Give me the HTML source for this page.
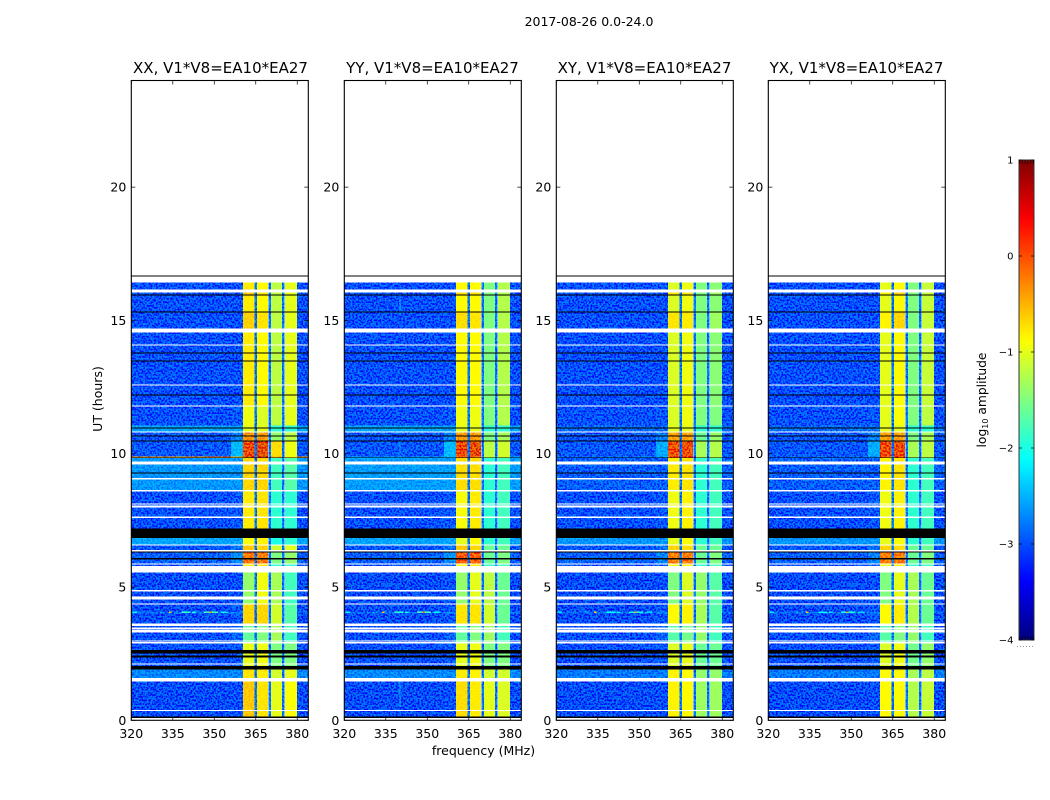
<!DOCTYPE html>
<html>
<head>
<meta charset="utf-8">
<title>2017-08-26 0.0-24.0</title>
<style>
html,body{margin:0;padding:0;background:#fff;width:1050px;height:800px;overflow:hidden}
svg{display:block}
text{font-family:"DejaVu Sans",sans-serif;fill:#000}
</style>
</head>
<body>
<svg id="fig" xmlns="http://www.w3.org/2000/svg" width="1050" height="800" viewBox="0 0 1050 800">
  <defs>
    <filter id="speckle" x="0" y="0" width="100%" height="100%" color-interpolation-filters="sRGB">
      <feTurbulence type="fractalNoise" baseFrequency="0.55" numOctaves="1" seed="7"/>
      <feColorMatrix type="matrix" values="0 0 0 0 0  4.6 0 0 0 -1.7  0 0 0 0 0  0 0 0 0 1"/>
    </filter>
    <linearGradient id="cbar-gradient" x1="0" y1="1" x2="0" y2="0"></linearGradient>
  </defs>
  <rect width="1050" height="800" fill="#fff"/>
  <text x="589" y="26" font-size="12.5" text-anchor="middle">2017-08-26 0.0-24.0</text>
  <g id="panels"></g>
  <text x="220.5" y="73" font-size="15" text-anchor="middle">XX, V1*V8=EA10*EA27</text>
  <text x="432.5" y="73" font-size="15" text-anchor="middle">YY, V1*V8=EA10*EA27</text>
  <text x="644.5" y="73" font-size="15" text-anchor="middle">XY, V1*V8=EA10*EA27</text>
  <text x="856.5" y="73" font-size="15" text-anchor="middle">YX, V1*V8=EA10*EA27</text>
  <text transform="translate(102,399) rotate(-90)" font-size="12.5" text-anchor="middle">UT (hours)</text>
  <text x="483.5" y="755" font-size="12.5" text-anchor="middle">frequency (MHz)</text>
  <g id="colorbar"></g>
  <text transform="translate(986,400) rotate(-90)" font-size="12.3" text-anchor="middle">log<tspan font-size="8" dy="2">10</tspan><tspan dy="-2"> amplitude</tspan></text>
</svg>
<script>
// ---- chart data (hours, MHz, log10 amplitude) ----
const panelNames = ['xx', 'yy', 'xy', 'yx'];
const xTickValues = [320, 335, 350, 365, 380];
const yTickValues = [0, 5, 10, 15, 20];
const colorbarTicks = [1, 0, -1, -2, -3, -4];
const freqStart = [320, 356, 360.4, 365.5, 370.5, 375.5, 380];
const freqEnd = [356, 360.4, 364.5, 369.5, 374.5, 380, 384];
const notchFreqs = [365, 370, 375];
const notchLevel = -3.1;

// UT edges of the time rows, top to bottom
const rowEdges = [16.69,16.65,16.43,16.16,16.05,15.98,15.94,15.34,15.30,14.70,14.55,14.10,14.06,13.80,13.76,13.50,13.46,12.60,12.56,12.23,12.19,11.81,11.78,11.06,10.99,10.95,10.84,10.80,10.69,10.65,10.50,10.46,9.90,9.86,9.83,9.71,9.60,9.30,9.26,9.08,9.04,8.63,8.59,8.14,8.10,8.06,7.99,7.65,7.58,7.20,6.83,6.60,6.56,6.38,6.34,6.30,6.08,6.04,5.89,5.85,5.78,5.55,4.88,4.84,4.65,4.54,4.39,4.35,4.09,4.01,3.64,3.53,3.49,3.41,3.38,3.30,3.00,2.96,2.93,2.89,2.63,2.51,2.44,2.36,2.14,2.10,2.03,1.91,1.58,1.46,0.38,0.34,0.15,0.08,0];
// row state: w = blank (flagged), k = black (zero), otherwise a level profile
const rowCodes = ['k','w','q','w','o','k','q','k','o','w','q','w','q','k','q','k','q','w','q','k','q','w','p','g','k','g','w','d','k','d','k','r','s','k','l','w','l','k','l','w','l','w','b','w','b','w','b','w','b','k','m','w','c','w','k','h','k','h','w','b','w','y','w','y','w','y','w','t','z','t','w','n','w','n','w','n','w','n','w','v','k','v','k','v','w','v','k','j','w','f','w','f','k','w'];

// profiles: [background, shoulder, band A, band B, band C, band D]
const xxProfiles = {
  q:[-3.35,-3.35,-.75,-.85,-1.2,-1.0], o:[-3.35,-3.35,-.55,-.7,-1.2,-1.0], p:[-3.35,-3.3,-.95,-1.05,-1.2,-1.0],
  g:[-2.75,-2.75,-1.0,-1.0,-1.9,-1.9], d:[-3.3,-3.0,-.15,-.2,-1.4,-1.2], r:[-3.3,-2.6,.45,.5,-.65,-.95],
  s:[-.1,-.5,.6,.6,-.3,-.8], l:[-2.85,-2.85,-.6,-.6,-1.8,-1.7], b:[-3.35,-3.3,-.75,-.7,-1.9,-1.9],
  m:[-2.75,-2.75,-.9,-.8,-2,-1.9], c:[-3.3,-3.1,-.5,-.6,-1.1,-1.0], h:[-3.25,-2.9,.05,.05,-1.5,-1.4],
  y:[-3.4,-3.35,-1.4,-.95,-1.3,-1.8], t:[-3.4,-3.3,-.6,-.6,-1.1,-1.7], z:[-3.15,-3.0,-.6,-.6,-1.1,-1.7],
  n:[-3.35,-3.2,-1.65,-1.5,-1.3,-1.8], v:[-3.35,-3.3,-1.0,-.95,-1.5,-1.5], j:[-2.95,-2.95,-.7,-.75,-1.1,-1.0], f:[-3.4,-3.35,-.5,-.7,-1.0,-.9]
};
const yyProfiles = {
  q:[-3.35,-3.35,-.85,-.85,-1.5,-1.25], o:[-3.35,-3.35,-.65,-.7,-1.5,-1.25], p:[-3.35,-3.3,-.95,-.95,-1.5,-1.25],
  g:[-2.75,-2.75,-1.0,-1.0,-1.9,-1.9], d:[-3.3,-3.0,-.2,-.2,-1.5,-1.3], r:[-3.3,-2.6,.45,.5,-1.2,-1.1],
  s:[-2.75,-2.6,.3,.3,-1.2,-1.1], l:[-2.8,-2.8,-.65,-.65,-1.9,-1.8], b:[-3.35,-3.3,-.9,-.75,-1.9,-1.8],
  m:[-2.75,-2.75,-1.0,-.85,-1.9,-1.8], c:[-3.3,-3.1,-.5,-.6,-1.6,-1.6], h:[-3.25,-2.9,.25,.25,-1.6,-1.5],
  y:[-3.4,-3.35,-1.4,-1.0,-1.2,-1.6], t:[-3.4,-3.3,-.7,-.7,-1.1,-1.6], z:[-3.15,-3.0,-.7,-.7,-1.1,-1.6],
  n:[-3.35,-3.2,-1.65,-1.5,-1.35,-1.8], v:[-3.35,-3.3,-1.0,-.95,-1.5,-1.5], j:[-2.95,-2.95,-.75,-.8,-1.1,-1.1], f:[-3.4,-3.35,-.65,-.75,-1.0,-1.05]
};
const xyProfiles = {
  q:[-3.35,-3.35,-1.05,-.95,-1.5,-1.45], o:[-3.35,-3.35,-.7,-.75,-1.5,-1.35], p:[-3.35,-3.3,-1.05,-.95,-1.5,-1.5],
  g:[-3.15,-3.15,-1.0,-1.0,-1.9,-1.9], d:[-3.3,-3.0,-.25,-.25,-1.6,-1.4], r:[-3.3,-2.7,.45,.45,-1.3,-1.25],
  s:[-3.15,-2.85,.3,.3,-1.3,-1.2], l:[-3.25,-3.25,-.75,-.7,-1.9,-1.8], b:[-3.35,-3.3,-.95,-.8,-1.9,-1.8],
  m:[-2.85,-2.85,-1.0,-.9,-1.9,-1.8], c:[-3.3,-3.1,-.6,-.65,-1.6,-1.6], h:[-3.25,-3.0,.0,.05,-1.6,-1.5],
  y:[-3.4,-3.35,-1.5,-1.05,-1.4,-1.7], t:[-3.4,-3.3,-.85,-.8,-1.3,-1.7], z:[-3.15,-3.0,-.85,-.8,-1.3,-1.7],
  n:[-3.35,-3.2,-1.7,-1.55,-1.4,-1.8], v:[-3.35,-3.3,-1.05,-1.0,-1.6,-1.6], j:[-3.05,-3.05,-.8,-.85,-1.4,-1.4], f:[-3.4,-3.35,-.8,-.85,-1.35,-1.35]
};
const yxProfiles = {
  q:[-3.35,-3.35,-1.0,-.85,-1.5,-1.15], o:[-3.35,-3.35,-.8,-.6,-1.5,-1.15], p:[-3.35,-3.3,-1.0,-.9,-1.5,-1.2],
  g:[-3.15,-3.15,-1.0,-1.0,-1.9,-1.9], d:[-3.3,-3.0,-.25,-.25,-1.5,-1.3], r:[-3.3,-2.7,.45,.45,-1.3,-1.2],
  s:[-3.15,-2.85,.3,.3,-1.3,-1.2], l:[-3.25,-3.25,-.8,-.7,-1.9,-1.8], b:[-3.35,-3.3,-.95,-.8,-1.9,-1.8],
  m:[-2.85,-2.85,-1.0,-.9,-1.9,-1.8], c:[-3.3,-3.1,-.6,-.65,-1.6,-1.6], h:[-3.25,-3.0,.0,.05,-1.6,-1.5],
  y:[-3.4,-3.35,-1.5,-1.0,-1.3,-1.6], t:[-3.4,-3.3,-.85,-.75,-1.25,-1.6], z:[-3.15,-3.0,-.85,-.75,-1.25,-1.6],
  n:[-3.35,-3.2,-1.7,-1.5,-1.4,-1.8], v:[-3.35,-3.3,-1.05,-.95,-1.55,-1.4], j:[-3.05,-3.05,-.85,-.85,-1.3,-1.2], f:[-3.4,-3.35,-.85,-.85,-1.25,-1.15]
};
const panelProfiles = [xxProfiles, yyProfiles, xyProfiles, yxProfiles];

// isolated interference spikes near 4.05 UT
const spikeUT = 4.05;
const spikeFreqs = [320.4, 330.5, 333.6, 338.2, 342.0, 346.3, 348.2, 349.0, 352.2];
const spikeWidths = [1.6, 0.5, 0.9, 3.2, 1.2, 1.9, 0.8, 2.4, 2.6];
const spikeLevels = [-2.1, -2.3, -.3, -1.9, -2.0, -1.8, .1, -1.8, -2.2];
// vertical spur in the YY panel
const spurFreq = 339.9;
const spurTop = [16.0, 10.5, 6.6, 1.6];
const spurBottom = [15.2, 10.0, 6.0, 0.5];
const spurLevel = -2.5;

// ---- layout ----
const panelLefts = [131.3, 344.3, 556.3, 768.3];
const panelWidth = 177;
const plotTop = 80.5, plotBottom = 720.3;
const freqMin = 320, freqMax = 384, utMin = 0, utMax = 24;
const cbarX = 1019, cbarW = 15, cbarTop = 160, cbarBottom = 640, cbarMin = -4, cbarMax = 1;
const NS = 'http://www.w3.org/2000/svg';

function xScale(panelLeft, f) { return panelLeft + (f - freqMin) / (freqMax - freqMin) * panelWidth; }
function yScale(ut) { return plotBottom - (ut - utMin) / (utMax - utMin) * (plotBottom - plotTop); }
function cScale(v) { return cbarBottom - (v - cbarMin) / (cbarMax - cbarMin) * (cbarBottom - cbarTop); }
function clip01(v) { return Math.max(0, Math.min(1, v)); }
function jet(v) {
  const n = clip01((v - cbarMin) / (cbarMax - cbarMin));
  const r = clip01(1.5 - Math.abs(4 * n - 3));
  const g = clip01(1.5 - Math.abs(4 * n - 2));
  const b = clip01(1.5 - Math.abs(4 * n - 1));
  return 'rgb(' + Math.round(r * 255) + ',' + Math.round(g * 255) + ',' + Math.round(b * 255) + ')';
}
function make(parent, tag, attrs) {
  const el = document.createElementNS(NS, tag);
  for (const k in attrs) el.setAttribute(k, attrs[k]);
  parent.appendChild(el);
  return el;
}

const panelsRoot = document.getElementById('panels');
panelNames.forEach(function (name, p) {
  const left = panelLefts[p];
  const profiles = panelProfiles[p];
  const g = make(panelsRoot, 'g', {});
  
  

  // heatmap cells
  const cells = make(g, 'g', { 'shape-rendering': 'crispEdges' });
  
  
  rowCodes.forEach(function (code, r) {
    if (code === 'w' || code === 'k') return;
    const y0 = yScale(rowEdges[r]), y1 = yScale(rowEdges[r + 1]);
    profiles[code].forEach(function (level, c) {
      const x0 = xScale(left, freqStart[c]), x1 = xScale(left, freqEnd[c]);
      const cell = make(cells, 'rect', { x: x0, y: y0, width: x1 - x0, height: y1 - y0, fill: jet(level) });
      
      
    });
    const bgCell = make(cells, 'rect', { x: xScale(left, 380), y: y0, width: xScale(left, 384) - xScale(left, 380), height: y1 - y0, fill: jet(profiles[code][0]) });
    
    
    notchFreqs.forEach(function (f) {
      const notch = make(cells, 'rect', { x: xScale(left, f - 0.45), y: y0, width: xScale(left, f + 0.45) - xScale(left, f - 0.45), height: y1 - y0, fill: jet(notchLevel) });
      
      
    });
  });

  // interference spikes
  spikeFreqs.forEach(function (f, i) {
    const s = make(cells, 'rect', { x: xScale(left, f), y: yScale(spikeUT + 0.03), width: xScale(left, f + spikeWidths[i]) - xScale(left, f), height: yScale(spikeUT - 0.03) - yScale(spikeUT + 0.03), fill: jet(spikeLevels[i] - (p > 1 ? 0.2 : 0)) });
    
    
  });

  // speckle texture over the measured region
  const speckle = make(g, 'rect', { x: left, y: yScale(rowEdges[0]), width: panelWidth, height: yScale(0) - yScale(rowEdges[0]), filter: 'url(#speckle)', opacity: 0.5, style: 'mix-blend-mode:screen' });
  
  

  if (name === 'yy') {
    spurTop.forEach(function (t, i) {
      const s = make(g, 'rect', { x: xScale(left, spurFreq), y: yScale(t), width: 1, height: yScale(spurBottom[i]) - yScale(t), fill: jet(spurLevel), 'shape-rendering': 'crispEdges' });
      
      
    });
  }

  // flagged / zero rows drawn over the texture
  const flags = make(g, 'g', { 'shape-rendering': 'crispEdges' });
  
  
  rowCodes.forEach(function (code, r) {
    if (code !== 'w' && code !== 'k') return;
    const y0 = yScale(rowEdges[r]), y1 = yScale(rowEdges[r + 1]);
    const bar = make(flags, 'rect', { x: left, y: y0, width: panelWidth, height: y1 - y0, fill: code === 'w' ? '#fff' : '#000' });
    
    
  });

  // frame
  const frame = make(g, 'rect', { x: left, y: plotTop, width: panelWidth, height: plotBottom - plotTop, fill: 'none', stroke: '#000', 'stroke-width': 1.1 });
  
  

  // ticks & labels
  xTickValues.forEach(function (v) {
    const x = xScale(left, v);
    const t1 = make(g, 'line', { x1: x, x2: x, y1: plotBottom, y2: plotBottom - 4, stroke: '#000', 'stroke-width': 0.7 });
    
    
    const t2 = make(g, 'line', { x1: x, x2: x, y1: plotTop, y2: plotTop + 4, stroke: '#000', 'stroke-width': 0.7 });
    
    
    const lab = make(g, 'text', { x: x, y: 738, 'font-size': 12.5, 'text-anchor': 'middle' });
    lab.textContent = String(v);
    
    
  });
  yTickValues.forEach(function (v) {
    const y = yScale(v);
    const t1 = make(g, 'line', { x1: left, x2: left + 4, y1: y, y2: y, stroke: '#000', 'stroke-width': 0.7 });
    
    
    const t2 = make(g, 'line', { x1: left + panelWidth, x2: left + panelWidth - 4, y1: y, y2: y, stroke: '#000', 'stroke-width': 0.7 });
    
    
    const lab = make(g, 'text', { x: left - 5, y: y + 4.5, 'font-size': 12.5, 'text-anchor': 'end' });
    lab.textContent = String(v);
    
    
  });
});

// colorbar
const cbarRoot = document.getElementById('colorbar');
const grad = document.getElementById('cbar-gradient');
[-4, -3.5, -3, -2.5, -2, -1.5, -1, -0.5, 0, 0.5, 1].forEach(function (v) {
  for (let k = 0; k < 5; k++) {
    const level = v + k * 0.1;
    if (level > 1) break;
    make(grad, 'stop', { offset: (level - cbarMin) / (cbarMax - cbarMin), 'stop-color': jet(level) });
  }
});
const cbarRect = make(cbarRoot, 'rect', { x: cbarX, y: cbarTop, width: cbarW, height: cbarBottom - cbarTop, fill: 'url(#cbar-gradient)', stroke: '#333', 'stroke-width': 1 });


colorbarTicks.forEach(function (v) {
  const y = cScale(v);
  const t1 = make(cbarRoot, 'line', { x1: cbarX, x2: cbarX + 3, y1: y, y2: y, stroke: '#000', 'stroke-width': 0.7 });
  
  
  const t2 = make(cbarRoot, 'line', { x1: cbarX + cbarW, x2: cbarX + cbarW - 3, y1: y, y2: y, stroke: '#000', 'stroke-width': 0.7 });
  
  
  const lab = make(cbarRoot, 'text', { x: 1013.5, y: y + 3.5, 'font-size': 10, 'text-anchor': 'end' });
  lab.textContent = String(v).replace('-', '\u2212');
  
  
});
[0, 1, 2, 3, 4, 5].forEach(function (k) {
  const x = cbarX + 0.5 + k * 2.8;
  const tt = make(cbarRoot, 'line', { x1: x, x2: x, y1: cbarTop, y2: cbarTop + 4, stroke: '#000', 'stroke-width': 0.6 });
  
  
  const tb = make(cbarRoot, 'line', { x1: x, x2: x, y1: cbarBottom, y2: cbarBottom - 4, stroke: '#000', 'stroke-width': 0.6 });
  
  
  const dot = make(cbarRoot, 'rect', { x: cbarX - 2 + k * 3, y: 646, width: 1, height: 1, fill: '#999' });
  
  
});
</script>
</body>
</html>
